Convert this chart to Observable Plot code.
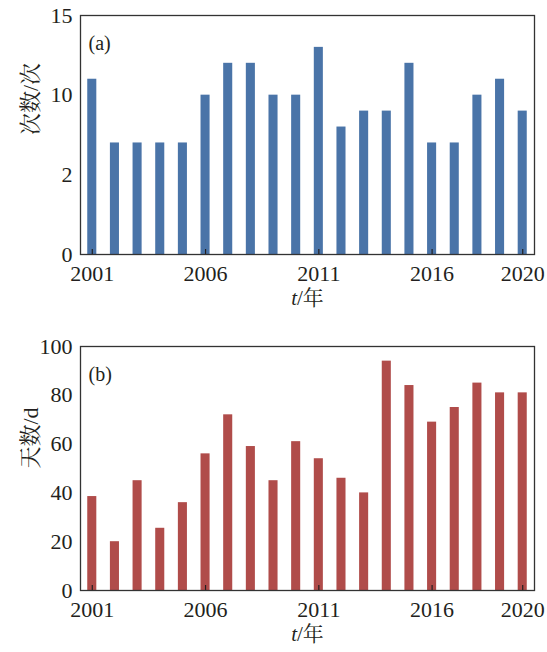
<!DOCTYPE html>
<html>
<head>
<meta charset="utf-8">
<script src="https://cdn.jsdelivr.net/npm/d3@7"></script>
<script src="https://cdn.jsdelivr.net/npm/@observablehq/plot@0.6"></script>
<style>
  body { margin: 0; background: #fff; }
  #chart svg { display: block; }
</style>
</head>
<body>
<div id="chart"></div>
<script>
const years = d3.range(2001, 2021);
const counts = [11, 7, 7, 7, 7, 10, 12, 12, 10, 10, 13, 8, 9, 9, 12, 7, 7, 10, 11, 9];
const days = [38.5, 20, 45, 25.5, 36, 56, 72, 59, 45, 61, 54, 46, 40, 94, 84, 69, 75, 85, 81, 81];
const xTicks = [2001, 2006, 2011, 2016, 2020];
const xLabels = ["2001", "2006", "2011", "2016", "2020"];
const yTicksA = [0, 5, 10, 15];
const yLabelsA = ["0", "2", "10", "15"];
const yTicksB = [0, 20, 40, 60, 80, 100];
const yLabelsB = ["0", "20", "40", "60", "80", "100"];
const labelA = "(a)";
const labelB = "(b)";
const yTitleA = "次数/次";
const yTitleB = "天数/d";
const xTitle = "t/年";
const colorA = "#4a74a8";
const colorB = "#b04c4a";

const FONT = "'Liberation Serif', 'Noto Serif CJK SC', serif";

function panel({values, yDomain, yTicks, yLabels, color, label, yTitle, height, marginTop, marginBottom}) {
  const data = years.map((y, i) => ({year: y, value: values[i]}));
  const xt = xTicks.map((t, i) => ({t, s: xLabels[i]}));
  const yt = yTicks.map((t, i) => ({t, s: yLabels[i]}));
  const svg = Plot.plot({
    width: 547,
    height,
    marginLeft: 80,
    marginRight: 13,
    marginTop,
    marginBottom,
    style: {fontFamily: FONT, fontSize: "22px", color: "#231f20", background: "#fff"},
    x: {domain: [2000.48, 2020.52], axis: null},
    y: {domain: yDomain, axis: null},
    marks: [
      Plot.rectY(data, {x1: d => d.year - 0.2, x2: d => d.year + 0.2, y: "value", fill: color}),
      Plot.text(xt, {x: "t", text: "s", frameAnchor: "bottom", lineAnchor: "top", dy: 11, fontSize: 22, fill: "#231f20"}),
      Plot.ruleX(xTicks, {x: d => d, y1: yDomain[0], y2: yDomain[0], insetTop: -5, stroke: "#231f20", strokeWidth: 1.2}),
      Plot.text(yt, {y: "t", text: "s", frameAnchor: "left", textAnchor: "end", dx: -8, fontSize: 22, fill: "#231f20"}),
      Plot.frame({stroke: "#333", strokeWidth: 1.3}),
      Plot.text([label], {frameAnchor: "top-left", dx: 8, dy: 20, fontSize: 20, fill: "#231f20"}),
      Plot.text([yTitle], {frameAnchor: "left", rotate: -90, dx: -50, fontSize: 22, fill: "#231f20"}),
      Plot.text([xTitle], {frameAnchor: "bottom", dy: 50, fontSize: 21, fill: "#231f20"})
    ]
  });
  const s = d3.select(svg);
  s.selectAll("text").attr("font-variant", null).style("font-family", FONT, "important");
  s.selectAll("text").filter(function() { return this.textContent === xTitle; })
    .each(function() {
      const t = d3.select(this);
      t.text(null);
      t.append("tspan").attr("font-style", "italic").text("t");
      t.append("tspan").text("/年");
    });
  return svg;
}

const chart = document.getElementById("chart");
chart.appendChild(panel({values: counts, yDomain: [0, 15], yTicks: yTicksA, yLabels: yLabelsA, color: colorA, label: labelA, yTitle: yTitleA, height: 320, marginTop: 15, marginBottom: 66}));
chart.appendChild(panel({values: days, yDomain: [0, 100], yTicks: yTicksB, yLabels: yLabelsB, color: colorB, label: labelB, yTitle: yTitleB, height: 332, marginTop: 26, marginBottom: 62}));
</script>
</body>
</html>
